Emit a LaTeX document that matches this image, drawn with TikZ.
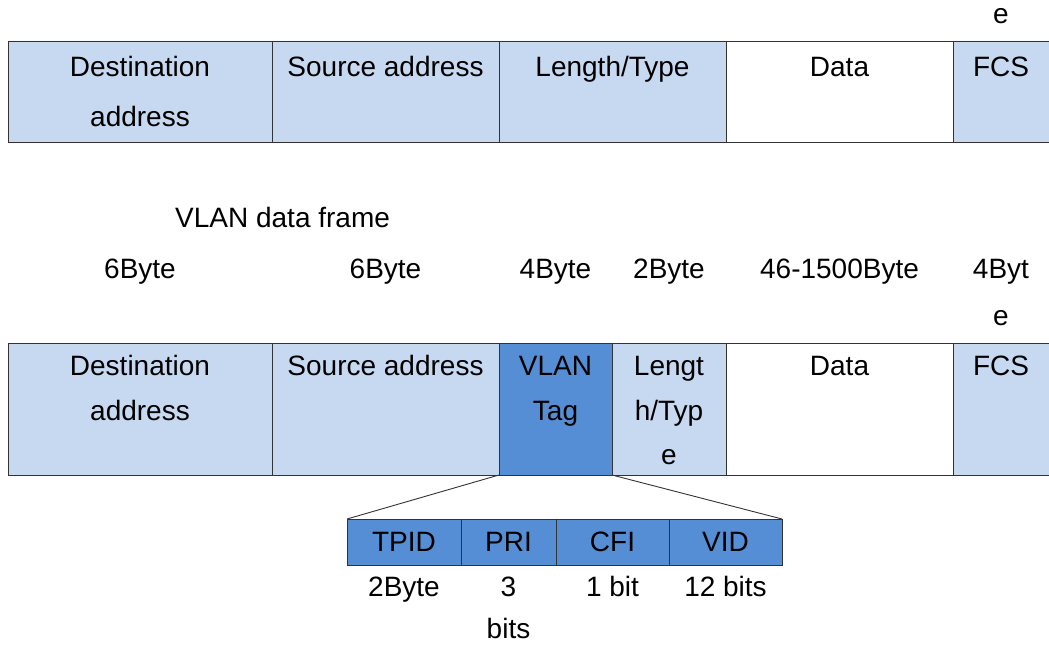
\documentclass[tikz,border=0pt]{standalone}
\usepackage{fontspec}
\setmainfont{Liberation Sans}
\definecolor{lightblue}{HTML}{C6D9F1}
\definecolor{darkblue}{HTML}{558ED5}
\definecolor{rule}{HTML}{333333}
\tikzset{
  cell/.style={draw=rule, line width=0.9pt, inner sep=0pt, outer sep=0pt, anchor=north west},
  lb/.style={cell, fill=lightblue},
  db/.style={cell, fill=darkblue},
  wb/.style={cell, fill=white},
  txt/.style={anchor=base, inner sep=0pt, font=\fontsize{28pt}{34pt}\selectfont},
  conn/.style={draw=rule, line width=0.9pt}
}
\begin{document}
\begin{tikzpicture}[x=1pt,y=-1pt]
\useasboundingbox (0,0) rectangle (1049,646);
\clip (0,0) rectangle (1049,646);
% ---------- top frame ----------
\node[lb, minimum width=264pt, minimum height=101pt] (a1) at (8,41) {};
\node[lb, minimum width=227pt, minimum height=101pt] (a2) at (272,41) {};
\node[lb, minimum width=227pt, minimum height=101pt] (a3) at (499,41) {};
\node[wb, minimum width=227pt, minimum height=101pt] (a4) at (726,41) {};
\node[lb, minimum width=110pt, minimum height=101pt] (a5) at (953,41) {};
\node[txt] (te) at (1001,23) {e};
\node[txt] (a1t) at (140,76) {Destination};
\node[txt] (a1u) at (140,126) {address};
\node[txt] (a2t) at (385.5,76) {Source address};
\node[txt] (a3t) at (612.5,76) {Length/Type};
\node[txt] (a4t) at (839.5,76) {Data};
\node[txt] (a5t) at (1001,76) {FCS};
% ---------- labels ----------
\node[txt, anchor=base west] (title) at (175,227.5) {VLAN data frame};
\node[txt] (s1) at (140,278) {6Byte};
\node[txt] (s2) at (385.5,278) {6Byte};
\node[txt] (s3) at (555.5,278) {4Byte};
\node[txt] (s4) at (669,278) {2Byte};
\node[txt] (s5) at (839.5,278) {46-1500Byte};
\node[txt] (s6) at (1001,278) {4Byt};
\node[txt] (s6b) at (1001,325) {e};
% ---------- VLAN frame ----------
\node[lb, minimum width=264pt, minimum height=132pt] (b1) at (8,343) {};
\node[lb, minimum width=227pt, minimum height=132pt] (b2) at (272,343) {};
\node[db, minimum width=113pt, minimum height=132pt] (b3) at (499,343) {};
\node[lb, minimum width=114pt, minimum height=132pt] (b4) at (612,343) {};
\node[wb, minimum width=227pt, minimum height=132pt] (b5) at (726,343) {};
\node[lb, minimum width=110pt, minimum height=132pt] (b6) at (953,343) {};
\node[txt] (b1t) at (140,375.5) {Destination};
\node[txt] (b1u) at (140,420) {address};
\node[txt] (b2t) at (385.5,375.5) {Source address};
\node[txt] (b3t) at (555.5,375.5) {VLAN};
\node[txt] (b3u) at (555.5,420) {Tag};
\node[txt] (b4t) at (669,375.5) {Lengt};
\node[txt] (b4u) at (669,420) {h/Typ};
\node[txt] (b4v) at (669,464) {e};
\node[txt] (b5t) at (839.5,375.5) {Data};
\node[txt] (b6t) at (1001,375.5) {FCS};
% ---------- VLAN tag detail ----------
\node[db, minimum width=114pt, minimum height=46pt] (c1) at (347,519) {};
\node[db, minimum width=95pt, minimum height=46pt] (c2) at (461,519) {};
\node[db, minimum width=113pt, minimum height=46pt] (c3) at (556,519) {};
\node[db, minimum width=113pt, minimum height=46pt] (c4) at (669,519) {};
\node[txt] (c1t) at (404,551.5) {TPID};
\node[txt] (c2t) at (508.5,551.5) {PRI};
\node[txt] (c3t) at (612.5,551.5) {CFI};
\node[txt] (c4t) at (725.5,551.5) {VID};
\node[txt] (d1) at (404,596.5) {2Byte};
\node[txt] (d2) at (508.5,596.5) {3};
\node[txt] (d2b) at (508.5,638) {bits};
\node[txt] (d3) at (612.5,596.5) {1 bit};
\node[txt] (d4) at (725.5,596.5) {12 bits};
% ---------- connectors ----------
\draw[conn] (b3.south west) -- (c1.north west);
\draw[conn] (b3.south east) -- (c4.north east);
\end{tikzpicture}
\end{document}
